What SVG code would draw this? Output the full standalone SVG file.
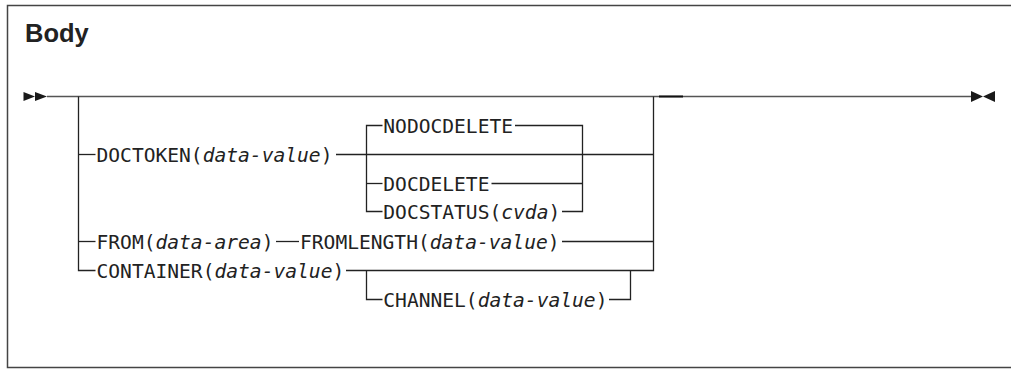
<svg xmlns="http://www.w3.org/2000/svg" width="1011" height="369" viewBox="0 0 1011 369">
<style>
.frame{fill:none;stroke:#444;stroke-width:1.5}
.title{font-family:"Liberation Sans",Arial,sans-serif;font-weight:bold;font-size:25.5px;fill:#222}
.kw{font-family:"DejaVu Sans Mono","Liberation Mono",monospace;font-size:19.6px;fill:#222}
.kw tspan.v{font-style:italic}
.ln{fill:none;stroke:#222;stroke-width:1.3}
.main{fill:none;stroke:#555;stroke-width:1.6}
.tri{fill:#1a1a1a}
</style>
<path class="frame" d="M1011 5.5 H7.5 V367.5 H1011"/>
<g id="title"><text class="title" x="25" y="42">Body</text></g>
<g id="start"><polygon class="tri" points="23.5,92 35,96.5 23.5,101"/><polygon class="tri" points="35,92 47,96.5 35,101"/></g>
<g id="end"><polygon class="tri" points="971,91 983,96.5 971,102"/><polygon class="tri" points="995,91 983,96.5 995,102"/></g>
<g id="connectors">
<path class="main" d="M47 96.5 H971"/>
<path d="M659 96.5 H683" stroke="#111" stroke-width="2" fill="none"/>
<path class="ln" d="M78.5 96.5 V270.5 H95.5"/>
<path class="ln" d="M78.5 154.5 H95.5"/>
<path class="ln" d="M78.5 241.5 H95.5"/>
<path class="ln" d="M336 154.5 H653.5"/>
<path class="ln" d="M382.5 125.5 H366.5 V211.5 H382.5"/>
<path class="ln" d="M366.5 183.5 H382.5"/>
<path class="ln" d="M515 125.5 H582.5 V211.5 H562"/>
<path class="ln" d="M491.5 183.5 H582.5"/>
<path class="ln" d="M276 241.5 H299"/>
<path class="ln" d="M562 241.5 H653.5"/>
<path class="ln" d="M346 270.5 H653.5 V96.5"/>
<path class="ln" d="M366.5 270.5 V299.5 H382.5"/>
<path class="ln" d="M609 299.5 H630.5 V270.5"/>
</g>
<g id="doctoken"><text class="kw" x="96.5" y="161.5">DOCTOKEN(<tspan class="v">data-value</tspan>)</text></g>
<g id="nodocdelete"><text class="kw" x="383.3" y="132.5">NODOCDELETE</text></g>
<g id="docdelete"><text class="kw" x="383.3" y="190.5">DOCDELETE</text></g>
<g id="docstatus"><text class="kw" x="383.3" y="218.5">DOCSTATUS(<tspan class="v">cvda</tspan>)</text></g>
<g id="from"><text class="kw" x="96.5" y="248.5">FROM(<tspan class="v">data-area</tspan>)</text></g>
<g id="fromlength"><text class="kw" x="300" y="248.5">FROMLENGTH(<tspan class="v">data-value</tspan>)</text></g>
<g id="container"><text class="kw" x="96.5" y="277.5">CONTAINER(<tspan class="v">data-value</tspan>)</text></g>
<g id="channel"><text class="kw" x="383.3" y="306.5">CHANNEL(<tspan class="v">data-value</tspan>)</text></g>
</svg>
